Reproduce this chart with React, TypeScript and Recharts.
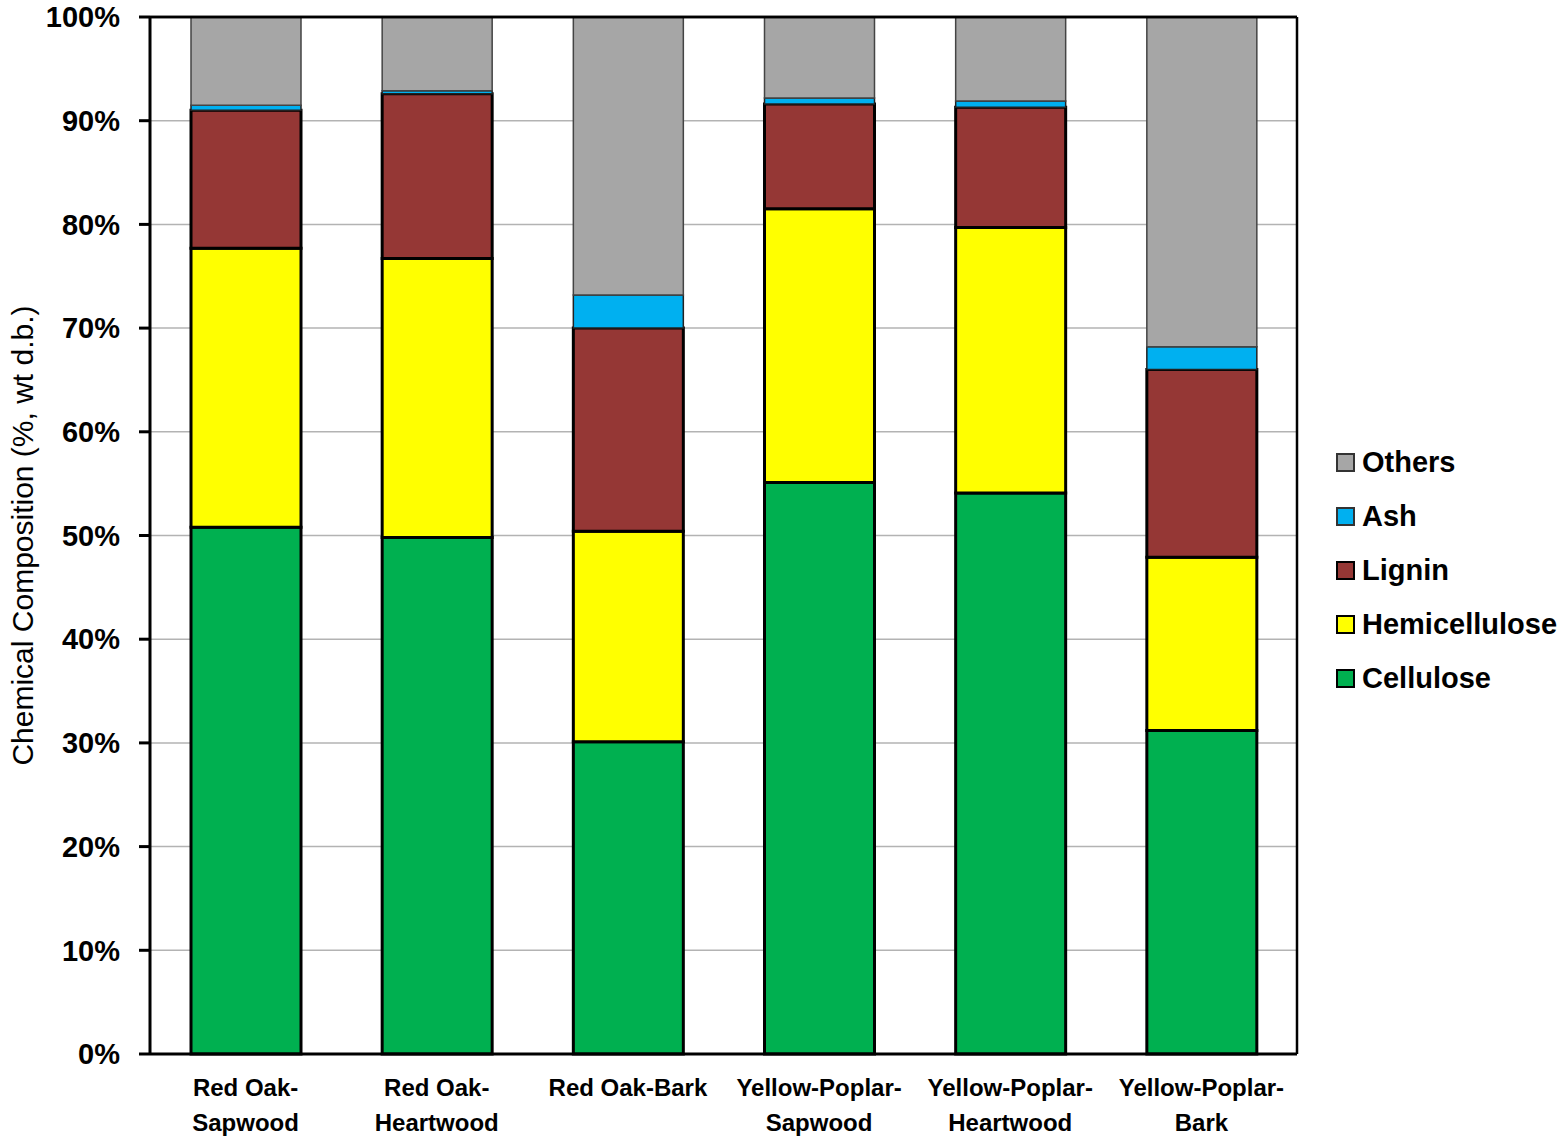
import { Bar, BarChart, CartesianGrid, ReferenceLine, XAxis, YAxis } from 'recharts';

const categories = [
  'Red Oak-|Sapwood',
  'Red Oak-|Heartwood',
  'Red Oak-Bark',
  'Yellow-Poplar-|Sapwood',
  'Yellow-Poplar-|Heartwood',
  'Yellow-Poplar-|Bark',
];
const cellulose = [50.8, 49.8, 30.1, 55.1, 54.1, 31.2];
const hemicellulose = [26.9, 26.9, 20.3, 26.4, 25.6, 16.7];
const lignin = [13.3, 15.9, 19.6, 10.1, 11.6, 18.1];
const ash = [0.5, 0.3, 3.2, 0.6, 0.6, 2.2];
const others = [8.5, 7.1, 26.8, 7.8, 8.1, 31.8];
const yTicks = [0, 10, 20, 30, 40, 50, 60, 70, 80, 90, 100];

const series = [
  { key: 'Cellulose', fill: '#00B050', stroke: '#000', width: 3 },
  { key: 'Hemicellulose', fill: '#FFFF00', stroke: '#000', width: 3 },
  { key: 'Lignin', fill: '#953735', stroke: '#000', width: 3 },
  { key: 'Ash', fill: '#00B0F0', stroke: '#222', width: 1.5 },
  { key: 'Others', fill: '#A6A6A6', stroke: '#444', width: 1.5 },
];

const data = categories.map((name, i) => ({
  name,
  Cellulose: cellulose[i],
  Hemicellulose: hemicellulose[i],
  Lignin: lignin[i],
  Ash: ash[i],
  Others: others[i],
}));

const FONT = '"Liberation Sans", Arial, sans-serif';

function CategoryTick({ x, y, payload }: any) {
  const lines = String(payload.value).split('|');
  return (
    <text
      x={x}
      y={y + 34}
      textAnchor="middle"
      fontFamily={FONT}
      fontWeight="bold"
      fontSize={24}
      fill="#000"
    >
      {lines.map((line, i) => (
        <tspan key={i} x={x} dy={i === 0 ? 0 : 35}>
          {line}
        </tspan>
      ))}
    </text>
  );
}

function LegendBox() {
  return (
    <div
      style={{
        position: 'absolute',
        left: 1336,
        top: 435,
        fontFamily: FONT,
        fontWeight: 'bold',
        fontSize: 29,
        whiteSpace: 'nowrap',
      }}
    >
      {[...series].reverse().map((s) => (
        <div
          key={s.key}
          style={{ display: 'flex', alignItems: 'center', height: 54 }}
        >
          <span
            style={{
              width: 15,
              height: 15,
              background: s.fill,
              border: `2.5px solid ${s.width > 2 ? '#000' : '#333'}`,
              marginRight: 7,
            }}
          />
          <span>{s.key}</span>
        </div>
      ))}
    </div>
  );
}

export default function App() {
  return (
    <div
      style={{
        position: 'absolute',
        left: 0,
        top: 0,
        width: 1561,
        height: 1147,
        background: '#fff',
        overflow: 'hidden',
      }}
    >
      <BarChart
        width={1561}
        height={1147}
        data={data}
        margin={{ top: 16, right: 263, bottom: 0, left: 0 }}
      >
        <CartesianGrid vertical={false} stroke="#b3b3b3" strokeWidth={1.5} />
        <XAxis
          dataKey="name"
          height={93}
          interval={0}
          tick={<CategoryTick />}
          tickLine={false}
          axisLine={{ stroke: '#000', strokeWidth: 3 }}
        />
        <XAxis
          xAxisId="top"
          orientation="top"
          dataKey="name"
          height={1}
          tick={false}
          tickLine={false}
          axisLine={{ stroke: '#000', strokeWidth: 2.5 }}
        />
        <YAxis
          width={150}
          domain={[0, 100]}
          ticks={yTicks}
          interval={0}
          tickFormatter={(v) => `${v}%`}
          tick={{ fontFamily: FONT, fontWeight: 'bold', fontSize: 29, fill: '#000' }}
          tickSize={11}
          tickMargin={19}
          tickLine={{ stroke: '#000', strokeWidth: 3 }}
          axisLine={{ stroke: '#000', strokeWidth: 3 }}
          label={{
            value: 'Chemical Composition (%, wt d.b.)',
            angle: -90,
            position: 'insideLeft',
            offset: 0,
            dx: 22,
            style: { fontFamily: FONT, fontSize: 30, fill: '#000', textAnchor: 'middle' },
          }}
        />
        <YAxis
          yAxisId="right"
          orientation="right"
          width={1}
          domain={[0, 100]}
          tick={false}
          tickLine={false}
          axisLine={{ stroke: '#000', strokeWidth: 2.5 }}
        />
        {series.map((s) => (
          <Bar
            key={s.key}
            dataKey={s.key}
            stackId="a"
            barSize={110}
            fill={s.fill}
            stroke={s.stroke}
            strokeWidth={s.width}
            isAnimationActive={false}
          />
        ))}
        <ReferenceLine y={100} stroke="#000" strokeWidth={2.5} />
      </BarChart>
      <LegendBox />
    </div>
  );
}
